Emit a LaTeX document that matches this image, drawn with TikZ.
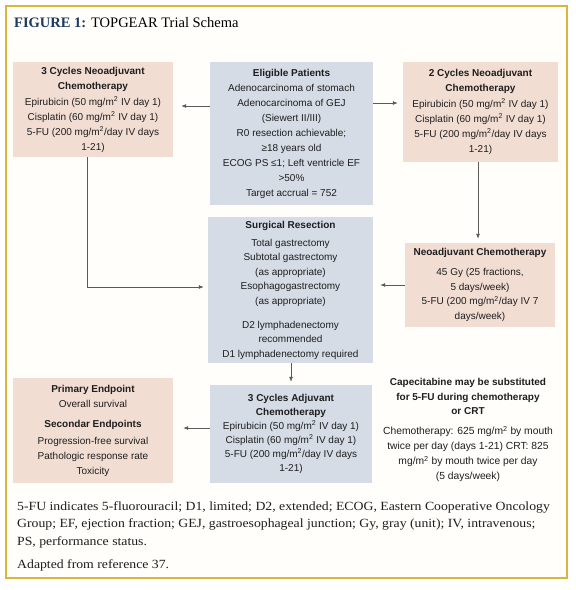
\documentclass[tikz,border=0pt]{standalone}
\usepackage{fontspec}
\usetikzlibrary{arrows.meta}
\newfontfamily\boxfont{Liberation Sans}
\newfontfamily\capfont{Liberation Serif}[FakeStretch=1.1]
\newfontfamily\titlefont{Liberation Serif}
\definecolor{pinkc}{HTML}{F2DDD3}
\definecolor{bluec}{HTML}{D6DCE5}
\definecolor{goldc}{HTML}{DDB43B}
\definecolor{navyc}{HTML}{1C3A5E}
\definecolor{bgc}{HTML}{FFFEFA}
\definecolor{arrc}{HTML}{5A5A5A}
\definecolor{txtc}{HTML}{1E1E1E}
\newcommand\msq{\textsuperscript{2}}
\tikzset{
  box/.style={draw=none, inner sep=0pt, align=center, text=txtc,
    font=\boxfont\fontsize{10}{15}\selectfont},
  pinkbox/.style={box, fill=pinkc},
  bluebox/.style={box, fill=bluec},
  arr/.style={draw=arrc, line width=0.8pt, -{Latex[length=5pt,width=4pt]}},
  captxt/.style={inner sep=0pt, anchor=base west, text=txtc,
    font=\capfont\fontsize{12.5}{17.5}\selectfont},
  note/.style={inner sep=0pt, align=center, text=txtc, anchor=north}
}
\begin{document}
\begin{tikzpicture}[x=1pt,y=-1pt]
\useasboundingbox (0,0) rectangle (576,590);
\fill[white] (0,0) rectangle (576,590);
\draw[goldc, line width=2pt, fill=bgc] (6,6) rectangle (567,578);

\node[inner sep=0pt, anchor=base west, font=\titlefont\fontsize{14.5}{17}\selectfont] (title) at (14,27.5)
  {\textcolor{navyc}{\bfseries FIGURE 1:} TOPGEAR Trial Schema};

% boxes
\node[pinkbox, minimum width=160pt, minimum height=95pt] (neo3) at (93,109.5)
  {\textbf{3 Cycles Neoadjuvant}\\\textbf{Chemotherapy}\\[1pt]
   Epirubicin (50 mg/m\msq\ IV day 1)\\
   Cisplatin (60 mg/m\msq\ IV day 1)\\
   5-FU (200 mg/m\msq/day IV days\\
   1-21)};

\node[bluebox, minimum width=163pt, minimum height=143pt] (elig) at (291.5,133.5)
  {\textbf{Eligible Patients}\\
   Adenocarcinoma of stomach\\
   Adenocarcinoma of GEJ\\
   (Siewert II/III)\\
   R0 resection achievable;\\
   ≥18 years old\\
   ECOG PS ≤1; Left ventricle EF\\
   >50\%\\
   Target accrual = 752};

\node[pinkbox, minimum width=155pt, minimum height=100pt] (neo2) at (480.5,112)
  {\textbf{2 Cycles Neoadjuvant}\\\textbf{Chemotherapy}\\[1pt]
   Epirubicin (50 mg/m\msq\ IV day 1)\\
   Cisplatin (60 mg/m\msq\ IV day 1)\\
   5-FU (200 mg/m\msq/day IV days\\
   1-21)};

\node[bluebox, minimum width=165pt, minimum height=146pt, font=\boxfont\fontsize{10}{14.5}\selectfont] (surg) at (290.5,290)
  {\textbf{Surgical Resection}\\[3.5pt]
   Total gastrectomy\\
   Subtotal gastrectomy\\
   (as appropriate)\\
   Esophagogastrectomy\\
   (as appropriate)\\[9.5pt]
   D2 lymphadenectomy\\
   recommended\\
   D1 lymphadenectomy required};

\node[pinkbox, minimum width=150pt, minimum height=84pt, font=\boxfont\fontsize{10}{14.5}\selectfont] (crt) at (480,285)
  {\textbf{Neoadjuvant Chemotherapy}\\[5.5pt]
   45 Gy (25 fractions,\\
   5 days/week)\\
   5-FU (200 mg/m\msq/day IV 7\\
   days/week)};

\node[pinkbox, minimum width=160pt, minimum height=105pt] (endp) at (93,430.5)
  {\textbf{Primary Endpoint}\\
   Overall survival\\[5pt]
   \textbf{Secondar Endpoints}\\[2pt]
   Progression-free survival\\
   Pathologic response rate\\
   Toxicity};

\node[bluebox, minimum width=162pt, minimum height=98pt, font=\boxfont\fontsize{10}{14}\selectfont] (adj) at (291,434)
  {\textbf{3 Cycles Adjuvant}\\\textbf{Chemotherapy}\\
   Epirubicin (50 mg/m\msq\ IV day 1)\\
   Cisplatin (60 mg/m\msq\ IV day 1)\\
   5-FU (200 mg/m\msq/day IV days\\
   1-21)};

% capecitabine note
\node[note, font=\boxfont\bfseries\fontsize{10}{14.5}\selectfont] (capa) at (468,378.5)
  {Capecitabine may be substituted\\
   for 5-FU during chemotherapy\\
   or CRT};
\node[note, font=\boxfont\fontsize{10.3}{15}\selectfont] (capb) at (468,426)
  {Chemotherapy: 625 mg/m\msq\ by mouth\\
   twice per day (days 1-21) CRT: 825\\
   mg/m\msq\ by mouth twice per day\\
   (5 days/week)};

% helper coordinates
\coordinate (ya) at (0,106);
\coordinate (yb) at (0,103);
\coordinate (yc) at (0,287);
\coordinate (yd) at (0,285);
\coordinate (ye) at (0,428);
\coordinate (xa) at (87,0);
\coordinate (xb) at (478,0);
\coordinate (xc) at (291,0);

% connectors
\draw[arr, shorten >=8pt] (elig.west |- ya) -- (neo3.east |- ya);
\draw[arr, shorten >=5pt] (elig.east |- yb) -- (neo2.west |- yb);
\draw[arr, shorten >=4pt] (neo3.south -| xa) |- (surg.west |- yc);
\draw[arr, shorten >=4pt] (neo2.south -| xb) -- (crt.north -| xb);
\draw[arr, shorten >=7pt] (crt.west |- yd) -- (surg.east |- yd);
\draw[arr, shorten >=3pt] (surg.south -| xc) -- (adj.north -| xc);
\draw[arr, shorten >=10pt] (adj.west |- ye) -- (endp.east |- ye);

% caption
\node[captxt] (cap1) at (17,510) {5-FU indicates 5-fluorouracil; D1, limited; D2, extended; ECOG, Eastern Cooperative Oncology};
\node[captxt] (cap2) at (17,527.5) {Group; EF, ejection fraction; GEJ, gastroesophageal junction; Gy, gray (unit); IV, intravenous;};
\node[captxt] (cap3) at (17,545) {PS, performance status.};
\node[captxt] (cap4) at (17,568) {Adapted from reference 37.};
\end{tikzpicture}
\end{document}
